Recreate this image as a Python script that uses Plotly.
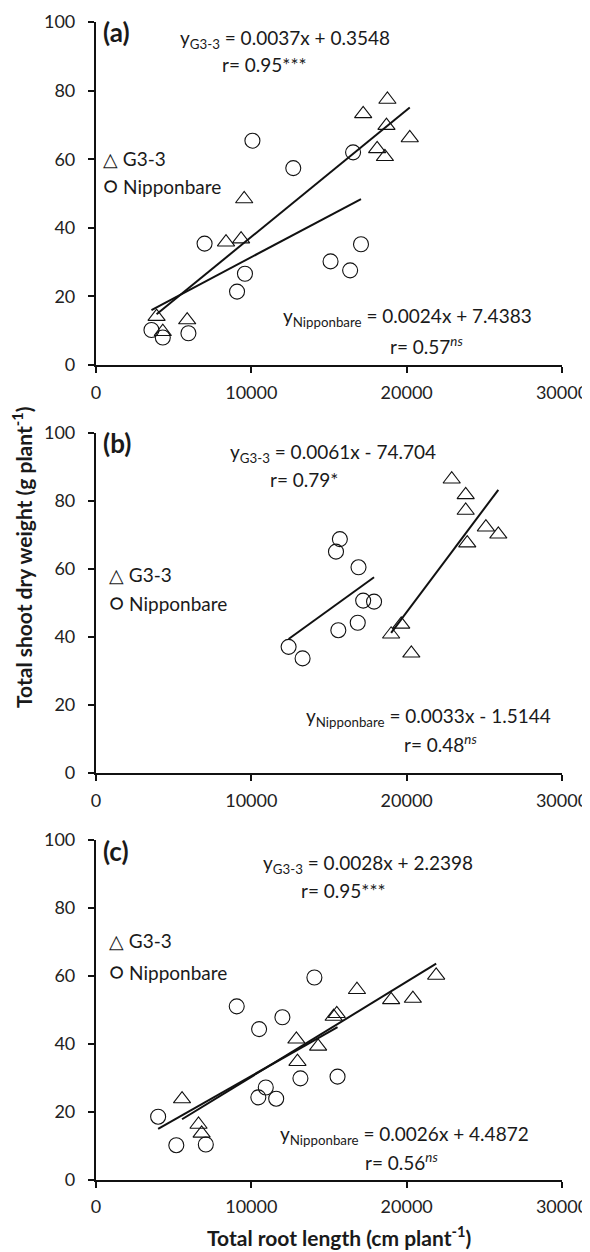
import plotly.graph_objects as go

# ---------------- data ----------------
# Panel (a)
a_g3_x = [18760, 17200, 18700, 20200, 18100, 18600, 9540, 8370, 9340, 5870, 3900, 4300]
a_g3_y = [77.4, 73.2, 69.8, 66.2, 63.0, 60.7, 48.4, 35.8, 36.7, 13.1, 14.1, 9.7]
a_nb_x = [10070, 12700, 16550, 6990, 17060, 15100, 16360, 9590, 9080, 3570, 4300, 5950]
a_nb_y = [65.4, 57.4, 62.0, 35.4, 35.2, 30.2, 27.6, 26.6, 21.4, 10.2, 8.0, 9.25]
# Panel (b)
b_g3_x = [22900, 23800, 23800, 25100, 25900, 23900, 19650, 19000, 20300]
b_g3_y = [86.4, 81.8, 77.2, 72.3, 70.2, 67.6, 43.7, 40.8, 35.2]
b_nb_x = [15700, 15450, 16900, 17200, 17900, 15600, 16850, 12400, 13300]
b_nb_y = [68.8, 65.1, 60.5, 50.7, 50.4, 42.0, 44.2, 37.1, 33.7]
# Panel (c)
c_g3_x = [21900, 16800, 19000, 20400, 15300, 15500, 12900, 14300, 12970, 5540, 6600, 6800]
c_g3_y = [60.1, 55.9, 52.9, 53.3, 48.0, 48.8, 41.3, 39.2, 34.7, 23.7, 16.2, 13.6]
c_nb_x = [14060, 9060, 12000, 10500, 13160, 15550, 10930, 10450, 11600, 4000, 5170, 7070]
c_nb_y = [59.5, 51.0, 47.8, 44.3, 29.8, 30.3, 27.1, 24.2, 23.8, 18.5, 10.1, 10.3]

# regression coefficients (slope, intercept)
a_g3_fit = (0.0037, 0.3548)
a_nb_fit = (0.0024, 7.4383)
b_g3_fit = (0.0061, -74.704)
b_nb_fit = (0.0033, -1.5144)
c_g3_fit = (0.0028, 2.2398)
c_nb_fit = (0.0026, 4.4872)

panel_labels = ["(a)", "(b)", "(c)"]
g3_eq = ["y<sub>G3-3</sub> = 0.0037x + 0.3548", "y<sub>G3-3</sub> = 0.0061x - 74.704", "y<sub>G3-3</sub> = 0.0028x + 2.2398"]
g3_r = ["r= 0.95***", "r= 0.79*", "r= 0.95***"]
nb_eq = ["y<sub>Nipponbare</sub> = 0.0024x + 7.4383", "y<sub>Nipponbare</sub> = 0.0033x - 1.5144", "y<sub>Nipponbare</sub> = 0.0026x + 4.4872"]
nb_r = ["r= 0.57<sup><i>ns</i></sup>", "r= 0.48<sup><i>ns</i></sup>", "r= 0.56<sup><i>ns</i></sup>"]
legend_labels = ["\u25B3 G3-3", '<span style="font-size:23px">\u25CB</span> Nipponbare']

x_ticks = [0, 10000, 20000, 30000]
y_ticks = [0, 20, 40, 60, 80, 100]
x_title = "Total root length (cm plant<sup>-1</sup>)"
y_title = "Total shoot dry weight (g plant<sup>-1</sup>)"

# ---------------- layout helpers ----------------
# the page body adds an 8px offset, so the figure is built 8px smaller
OFF = 8
W, H = 590 - OFF, 1252 - OFF
L = 96 - OFF
R = W - (562 - OFF)
PW = W - L - R
FONT = "Lato, Open Sans, sans-serif"
TXT = "#1a1a1a"
FS = 19

panels = [
    (a_g3_x, a_g3_y, a_nb_x, a_nb_y, a_g3_fit, a_nb_fit),
    (b_g3_x, b_g3_y, b_nb_x, b_nb_y, b_g3_fit, b_nb_fit),
    (c_g3_x, c_g3_y, c_nb_x, c_nb_y, c_g3_fit, c_nb_fit),
]
# page-pixel extents (top, bottom) of each plot area
pix = [(22, 365), (433, 773), (840, 1179.5)]

# annotation positions in data units (layout only)
ann_pos = [
    dict(lab=(350, 97), eq1=(5300, 95), r1=(7960, 87.6), leg=(320, 60.1, 52.6), eq2=(11900, 14), r2=(18800, 5.8)),
    dict(lab=(350, 97), eq1=(8500, 94), r1=(11100, 86.2), leg=(700, 58.3, 50.4), eq2=(13400, 16.5), r2=(19700, 8.6)),
    dict(lab=(350, 96.7), eq1=(10600, 92.8), r1=(13100, 85), leg=(700, 70.4, 61.5), eq2=(11700, 13.1), r2=(17200, 5.2)),
]

fig = go.Figure()
layout = dict(
    width=W, height=H,
    margin=dict(l=L, r=R, t=0, b=0, autoexpand=False),
    paper_bgcolor="white", plot_bgcolor="white",
    showlegend=False,
    font=dict(family=FONT, color=TXT, size=FS),
)
annotations = []

for i, (gx, gy, nx, ny, gfit, nfit) in enumerate(panels):
    sfx = "" if i == 0 else str(i + 1)
    xa, ya = "x" + sfx, "y" + sfx
    top, bot = pix[i][0] - OFF, pix[i][1] - OFF
    common = dict(showline=True, linecolor="#111", linewidth=2.2, ticks="outside",
                  ticklen=6, tickwidth=2, tickcolor="#111", showgrid=False, zeroline=False,
                  automargin=False, tickfont=dict(size=18, color="#222", family=FONT))
    layout["xaxis" + sfx] = dict(
        domain=[0, 1], anchor=ya, range=[0, 30000], tickvals=x_ticks,
        ticktext=[str(v) for v in x_ticks], ticklabelstandoff=4, **common)
    layout["yaxis" + sfx] = dict(
        domain=[1 - bot / H, 1 - top / H], anchor=xa, range=[0, 100], tickvals=y_ticks,
        ticklabelstandoff=9, **common)
    # scatter points
    fig.add_trace(go.Scatter(x=gx, y=gy, mode="markers", xaxis=xa, yaxis=ya,
                             marker=dict(symbol="triangle-up-open", size=15, color="#111",
                                         line=dict(width=1.1, color="#111"))))
    fig.add_trace(go.Scatter(x=nx, y=ny, mode="markers", xaxis=xa, yaxis=ya,
                             marker=dict(symbol="circle-open", size=15, color="#111",
                                         line=dict(width=1.1, color="#111"))))
    # regression lines over each series' x range
    for xs, (m, c) in ((gx, gfit), (nx, nfit)):
        x0, x1 = min(xs), max(xs)
        fig.add_trace(go.Scatter(x=[x0, x1], y=[m * x0 + c, m * x1 + c], mode="lines",
                                 xaxis=xa, yaxis=ya, line=dict(color="#111", width=2)))
    p = ann_pos[i]
    def A(text, xy, size=FS, bold=False):
        annotations.append(dict(text=("<b>%s</b>" % text) if bold else text,
                                x=xy[0], y=xy[1], xref=xa, yref=ya, xanchor="left",
                                yanchor="middle", showarrow=False,
                                font=dict(size=size, family=FONT, color=TXT)))
    A(panel_labels[i], p["lab"], size=26, bold=True)
    A(g3_eq[i], p["eq1"])
    A(g3_r[i], p["r1"])
    A(nb_eq[i], p["eq2"])
    A(nb_r[i], p["r2"])
    A(legend_labels[0], (p["leg"][0], p["leg"][1]))
    A(legend_labels[1], (p["leg"][0], p["leg"][2]))

# shared axis titles (paper coords: x relative to plot area)
annotations.append(dict(text="<b>%s</b>" % y_title, x=(22 - OFF - L) / PW, y=1 - (557 - OFF) / H,
                        xref="paper", yref="paper", textangle=-90, showarrow=False,
                        xanchor="center", yanchor="middle",
                        font=dict(size=21, family=FONT, color=TXT)))
annotations.append(dict(text="<b>%s</b>" % x_title, x=(339 - OFF - L) / PW, y=1 - (1236 - OFF) / H,
                        xref="paper", yref="paper", showarrow=False,
                        xanchor="center", yanchor="middle",
                        font=dict(size=21, family=FONT, color=TXT)))
layout["annotations"] = annotations
fig.update_layout(**layout)
fig.write_html("out.html")
